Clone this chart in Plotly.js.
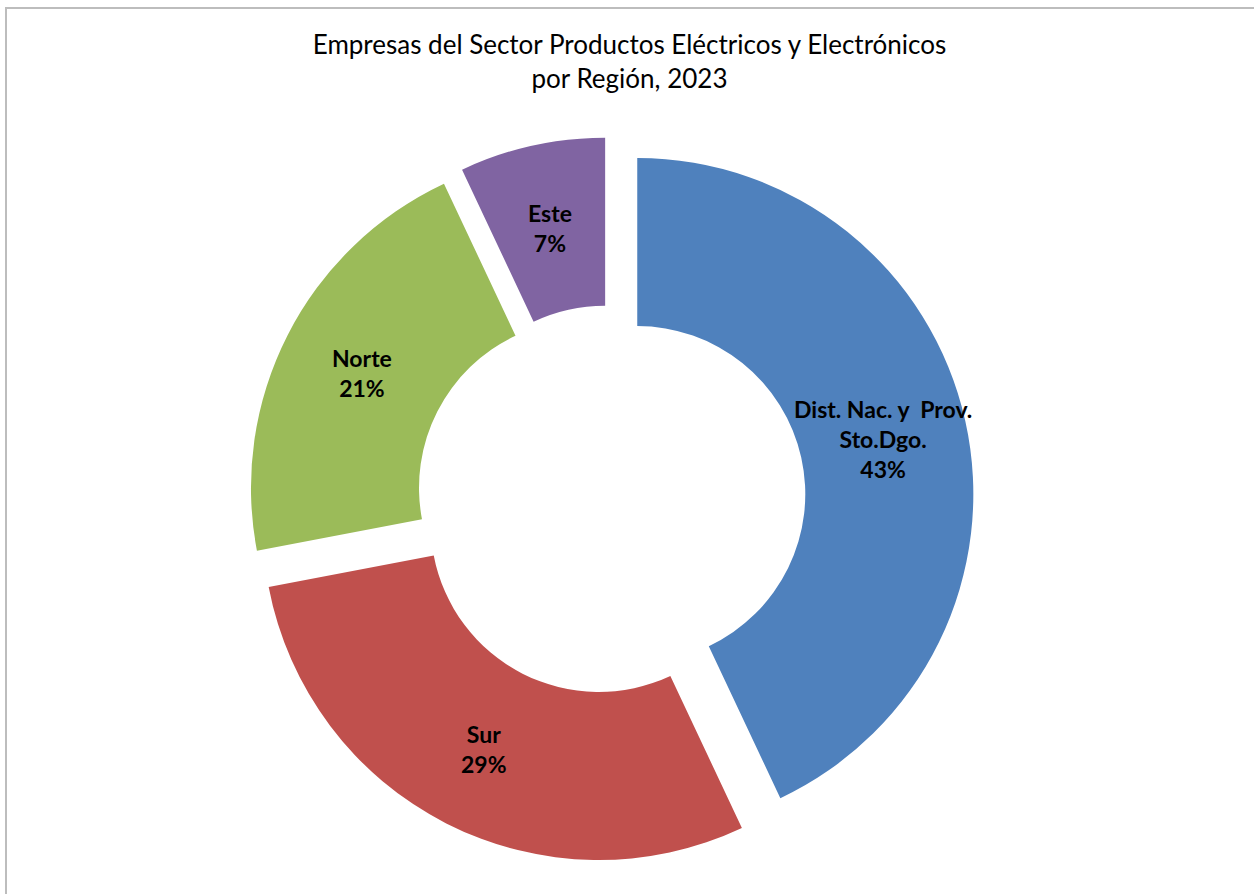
<!DOCTYPE html>
<html>
<head>
<meta charset="utf-8">
<script src="https://cdn.plot.ly/plotly-3.0.1.min.js"></script>
<style>html,body{margin:0;padding:0;background:#fff;}#chart{width:1254px;height:894px;}</style>
</head>
<body>
<div id="chart"></div>
<script>
const regions = ['Dist. Nac. y  Prov.<br>Sto.Dgo.', 'Sur', 'Norte', 'Este'];
const shares = [43, 29, 21, 7];
const colors = ['#4F81BD', '#C0504D', '#9BBB59', '#8064A2'];
const titleText = 'Empresas del Sector Productos Eléctricos y Electrónicos<br>por Región, 2023';

const W = 1254, H = 894;
const domX = [0.1978, 0.7767], domY = [0.0347, 0.8468];
const HOLE = 0.5, PULL = 0.08;

const trace = {
  type: 'pie',
  labels: regions,
  values: shares,
  sort: false,
  direction: 'clockwise',
  rotation: 0,
  hole: HOLE,
  pull: shares.map(() => PULL),
  marker: {colors: colors, line: {width: 0}},
  textinfo: 'none',
  domain: {x: domX, y: domY},
  showlegend: false,
  hoverinfo: 'none'
};

// label positions derived from the data: centre of each ring segment, shifted by the pull
const total = shares.reduce((a, b) => a + b, 0);
const cx = (domX[0] + domX[1]) / 2 * W;
const cy = H - (domY[0] + domY[1]) / 2 * H;
const R = Math.min((domX[1] - domX[0]) * W, (domY[1] - domY[0]) * H) / (2 + 2 * PULL);
const rLab = R * (1 + HOLE) / 2 + R * PULL;
let cum = 0;
const annotations = shares.map((v, i) => {
  const mid = (cum + v / 2) / total * 2 * Math.PI;
  cum += v;
  const px = cx + rLab * Math.sin(mid);
  const py = cy - rLab * Math.cos(mid);
  return {
    xref: 'paper', yref: 'paper',
    x: px / W, y: 1 - py / H,
    xanchor: 'center', yanchor: 'middle',
    showarrow: false,
    text: '<b>' + regions[i] + '<br>' + Math.round(v / total * 100) + '%</b>',
    font: {family: 'Lato, "DejaVu Sans", sans-serif', size: 23, color: '#000'}
  };
});

const layout = {
  width: W,
  height: H,
  margin: {l: 0, r: 0, t: 0, b: 0},
  paper_bgcolor: '#fff',
  showlegend: false,
  title: {
    text: titleText,
    x: 0.502, xanchor: 'center',
    y: 1 - 54 / H, yanchor: 'top',
    font: {family: 'Lato, "DejaVu Sans", sans-serif', size: 26, color: '#000'}
  },
  annotations: annotations,
  shapes: [{
    type: 'rect', xref: 'paper', yref: 'paper',
    x0: 6 / W, x1: 1.01, y0: -0.02, y1: 1 - 8 / H,
    line: {color: '#BDBDBD', width: 2}
  }]
};

Plotly.newPlot('chart', [trace], layout, {displayModeBar: false, staticPlot: true});
</script>
</body>
</html>
